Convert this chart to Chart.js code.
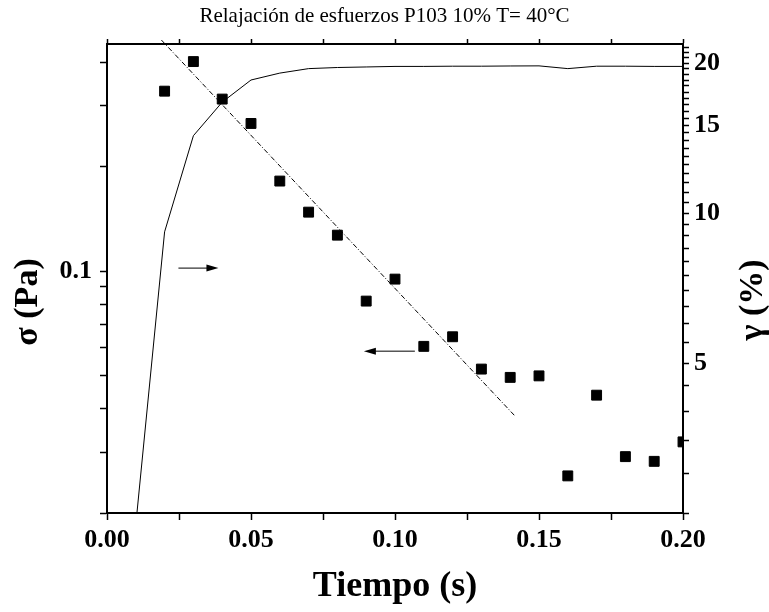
<!DOCTYPE html>
<html>
<head>
<meta charset="utf-8">
<script src="https://cdn.jsdelivr.net/npm/chart.js@4.4.1/dist/chart.umd.min.js"></script>
<style>
  body { margin: 0; background: #fff; }
  #wrap { width: 769px; height: 612px; }
</style>
</head>
<body>
<div id="wrap"><canvas id="chartRelax"></canvas></div>
<script>
// datos
const tiempo = [0.02, 0.03, 0.04, 0.05, 0.06, 0.07, 0.08, 0.09, 0.10, 0.11,
                0.12, 0.13, 0.14, 0.15, 0.16, 0.17, 0.18, 0.19, 0.20];
const sigma = [0.331, 0.403, 0.314, 0.267, 0.182, 0.148, 0.127, 0.0819, 0.0948, 0.0606,
               0.0646, 0.0521, 0.0493, 0.0498, 0.0256, 0.0438, 0.0291, 0.0282, 0.0321];

const tiempoGamma = [0.01, 0.02, 0.03, 0.04, 0.05, 0.06, 0.07, 0.08, 0.09, 0.10,
                     0.11, 0.12, 0.13, 0.14, 0.15, 0.16, 0.17, 0.18, 0.19, 0.20];
const gamma = [2.37, 9.17, 14.3, 16.7, 18.5, 19.1, 19.5, 19.6, 19.65, 19.7,
               19.7, 19.72, 19.72, 19.74, 19.75, 19.5, 19.72, 19.72, 19.7, 19.7];

// recta de ajuste
const ajusteX = [0.0189, 0.1417];
const ajusteY = [0.465, 0.0381];

// flechas: [x inicio, x fin, sigma]
const flechaDer = [0.0248, 0.0387, 0.102];
const flechaIzq = [0.1069, 0.0892, 0.0587];

// ticks
const xMajor = [0.00, 0.05, 0.10, 0.15, 0.20];
const sigmaTicks = [0.02, 0.03, 0.04, 0.05, 0.06, 0.07, 0.08, 0.09, 0.1, 0.2, 0.3, 0.4];
const sigmaLabels = [0.1];
const gammaLabels = [5, 10, 15, 20];

const gammaTicks = [];
for (let v = 2.5; v <= 21.5; v += 0.5) gammaTicks.push(v);

const FONT = "'Liberation Serif', 'Times New Roman', serif";
Chart.defaults.font.family = FONT;
Chart.defaults.color = '#000';

const toXY = (xs, ys) => xs.map((x, i) => ({ x: x, y: ys[i] }));

const axisBase = {
    grid: { drawOnChartArea: false, drawTicks: true, tickLength: 7, tickColor: '#000', tickWidth: 1.5 },
    border: { display: true, color: '#000', width: 2 }
};

const extras = {
    id: 'extras',
    afterDatasetsDraw(chart) {
        const ctx = chart.ctx;
        const xs = chart.scales.x, ys = chart.scales.y;

        function arrow(a) {
            const x0 = xs.getPixelForValue(a[0]);
            const x1 = xs.getPixelForValue(a[1]);
            const y = ys.getPixelForValue(a[2]);
            const dir = x1 > x0 ? 1 : -1;
            ctx.beginPath();
            ctx.moveTo(x0, y);
            ctx.lineTo(x1 - dir * 10, y);
            ctx.stroke();
            ctx.beginPath();
            ctx.moveTo(x1, y);
            ctx.lineTo(x1 - dir * 12, y - 3.5);
            ctx.lineTo(x1 - dir * 12, y + 3.5);
            ctx.closePath();
            ctx.fill();
        }

        ctx.save();
        ctx.strokeStyle = '#000';
        ctx.fillStyle = '#000';
        ctx.lineWidth = 1;
        arrow(flechaDer);
        arrow(flechaIzq);
        ctx.restore();
    },
    afterDraw(chart) {
        const ctx = chart.ctx;
        ctx.save();
        ctx.fillStyle = '#000';
        ctx.font = 'bold 34px ' + FONT;
        ctx.textAlign = 'center';
        ctx.textBaseline = 'middle';
        ctx.translate(28, 302);
        ctx.rotate(-Math.PI / 2);
        ctx.fillText('σ (Pa)', 0, 0);
        ctx.restore();

        ctx.save();
        ctx.fillStyle = '#000';
        ctx.font = 'bold 34px ' + FONT;
        ctx.textAlign = 'center';
        ctx.textBaseline = 'middle';
        ctx.translate(753, 300);
        ctx.rotate(-Math.PI / 2);
        ctx.fillText('γ (%)', 0, 0);
        ctx.restore();
    }
};

new Chart(document.getElementById('chartRelax'), {
    type: 'scatter',
    data: {
        datasets: [
            {
                type: 'line',
                data: toXY(tiempoGamma, gamma),
                yAxisID: 'y2',
                borderColor: '#000',
                borderWidth: 1,
                pointRadius: 0,
                tension: 0
            },
            {
                type: 'line',
                data: toXY(ajusteX, ajusteY),
                yAxisID: 'y',
                borderColor: '#000',
                borderWidth: 1,
                borderDash: [5, 2, 1, 2],
                pointRadius: 0,
                clip: { left: 0, top: 6, right: 0, bottom: 0 }
            },
            {
                data: toXY(tiempo, sigma),
                yAxisID: 'y',
                pointStyle: 'rect',
                pointRadius: 7,
                pointBackgroundColor: '#000',
                pointBorderColor: '#000',
                pointBorderWidth: 1
            }
        ]
    },
    options: {
        responsive: true,
        maintainAspectRatio: false,
        animation: false,
        layout: { padding: 0 },
        plugins: {
            legend: { display: false },
            tooltip: { enabled: false },
            title: {
                display: true,
                text: 'Relajación de esfuerzos P103 10% T= 40°C',
                font: { family: FONT, size: 21, weight: 'normal' },
                color: '#000',
                padding: { top: 4, bottom: 3 }
            }
        },
        scales: {
            x: {
                ...axisBase,
                type: 'linear',
                position: 'bottom',
                min: 0,
                max: 0.2,
                afterBuildTicks: s => {
                    s.ticks = [0, 0.025, 0.05, 0.075, 0.1, 0.125, 0.15, 0.175, 0.2].map(v => ({ value: v }));
                },
                afterFit: s => { s.height = 99; },
                ticks: {
                    autoSkip: false,
                    maxRotation: 0,
                    padding: 5,
                    font: { size: 26, weight: 'bold' },
                    callback: v => xMajor.some(m => Math.abs(m - v) < 1e-9) ? v.toFixed(2) : ''
                },
                title: {
                    display: true,
                    text: 'Tiempo (s)',
                    font: { size: 36, weight: 'bold' },
                    padding: { top: 0, bottom: 4 }
                }
            },
            x2: {
                ...axisBase,
                type: 'linear',
                position: 'top',
                min: 0,
                max: 0.2,
                grid: { ...axisBase.grid, tickLength: 5 },
                afterBuildTicks: s => {
                    s.ticks = [0, 0.025, 0.05, 0.075, 0.1, 0.125, 0.15, 0.175, 0.2].map(v => ({ value: v }));
                },
                afterFit: s => { s.height = 11.8; },
                ticks: { display: false }
            },
            y: {
                ...axisBase,
                type: 'logarithmic',
                position: 'left',
                min: 0.02,
                max: 0.453,
                afterBuildTicks: s => { s.ticks = sigmaTicks.map(v => ({ value: v })); },
                afterFit: s => { s.width = 107; },
                ticks: {
                    autoSkip: false,
                    padding: 8,
                    font: { size: 26, weight: 'bold' },
                    callback: v => sigmaLabels.some(m => Math.abs(m - v) < 1e-9) ? String(v) : ''
                }
            },
            y2: {
                ...axisBase,
                type: 'logarithmic',
                position: 'right',
                min: 2.5,
                max: 21.85,
                grid: { ...axisBase.grid, tickLength: 6 },
                afterBuildTicks: s => { s.ticks = gammaTicks.map(v => ({ value: v })); },
                afterFit: s => { s.width = 86; },
                ticks: {
                    autoSkip: false,
                    padding: 5,
                    font: { size: 26, weight: 'bold' },
                    callback: v => gammaLabels.includes(v) ? String(v) : ''
                }
            }
        }
    },
    plugins: [extras]
});
</script>
</body>
</html>
